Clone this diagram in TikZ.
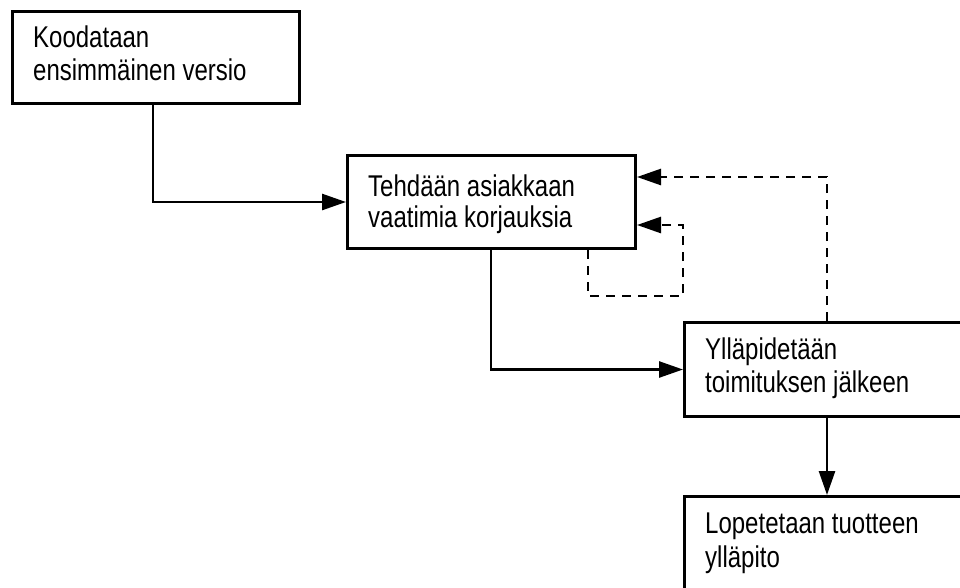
\documentclass[tikz,border=0pt]{standalone}
\usepackage{fontspec}
\setmainfont{Liberation Sans}[FakeStretch=0.8]
\usetikzlibrary{arrows.meta}

\tikzset{
  procbox/.style={draw, line width=3pt, inner sep=0pt, anchor=north west},
  boxtext/.style={anchor=base west, inner sep=0pt, font=\fontsize{30}{33}\selectfont},
  flow/.style={line width=2.6pt, -{Triangle[length=24pt,width=16pt]}},
  backflow/.style={flow, dash pattern=on 9pt off 7pt}
}

\begin{document}
\begin{tikzpicture}[x=1pt, y=-1pt]
  \useasboundingbox (0,0) rectangle (960,587);
  \clip (0,0) rectangle (960,587);
  \fill[white] (0,0) rectangle (960,587);

  % process boxes
  \node[procbox, minimum width=287pt, minimum height=92pt] (code) at (11,10) {};
  \node[procbox, minimum width=288pt, minimum height=93pt] (fix) at (346,154) {};
  \node[procbox, minimum width=300pt, minimum height=94pt] (maint) at (683,321) {};
  \node[procbox, minimum width=300pt, minimum height=120pt] (stop) at (683,495) {};

  % box texts
  \node[boxtext] (code1) at (33,47) {Koodataan};
  \node[boxtext] (code2) at (33,80) {ensimmäinen versio};
  \node[boxtext] (fix1) at (368,196) {Tehdään asiakkaan};
  \node[boxtext] (fix2) at (368,227) {vaatimia korjauksia};
  \node[boxtext] (maint1) at (705,359) {Ylläpidetään};
  \node[boxtext] (maint2) at (705,392) {toimituksen jälkeen};
  \node[boxtext] (stop1) at (705,533) {Lopetetaan tuotteen};
  \node[boxtext] (stop2) at (705,567) {ylläpito};

  % main flow
  \draw[flow] (153,0 |- code.south) |- (fix.west);
  \draw[flow] (491,0 |- fix.south) |- (maint.west);
  \draw[flow] (827,0 |- maint.south) -- (827,0 |- stop.north);

  % feedback loops
  \draw[backflow] (827,0 |- maint.north) |- (fix.east |- 0,177);
  \draw[backflow] (588,0 |- fix.south) -- (588,296) -- (683,296) -- (683,225) -- (fix.east |- 0,225);
\end{tikzpicture}
\end{document}
